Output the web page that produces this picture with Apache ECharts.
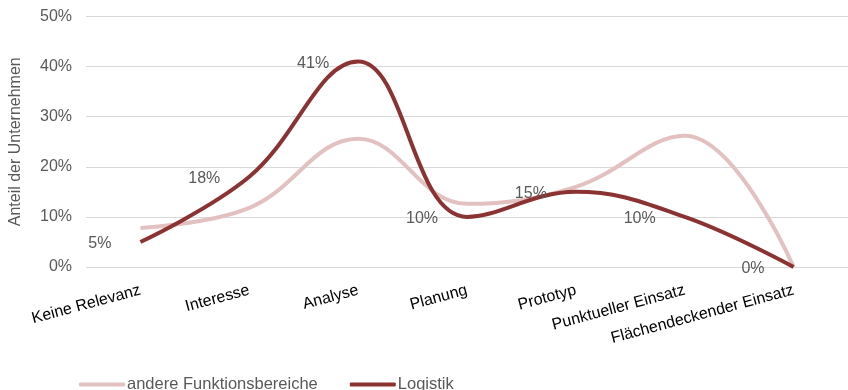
<!DOCTYPE html>
<html>
<head>
<meta charset="utf-8">
<script src="https://cdn.jsdelivr.net/npm/echarts@6/dist/echarts.min.js"></script>
<style>html,body{margin:0;padding:0;background:#fff;}#c{width:848px;height:390px;}</style>
</head>
<body>
<div id="c"></div>
<script>
const categories = ['Keine Relevanz', 'Interesse', 'Analyse', 'Planung', 'Prototyp', 'Punktueller Einsatz', 'Flächendeckender Einsatz'];
const andereFunktionsbereiche = [7.8, 11.8, 25.6, 12.6, 16, 26.2, 0];
const logistik = [5, 18, 41, 10, 15, 10, 0];
const yTicks = [0, 10, 20, 30, 40, 50];

const font = '"Liberation Sans", Arial, sans-serif';
const chart = echarts.init(document.getElementById('c'));
chart.setOption({
  animation: false,
  textStyle: { fontFamily: font },
  grid: { left: 82, right: -4, top: 16.5, bottom: 123 },
  legend: {
    left: 74, top: 371,
    itemWidth: 46, itemHeight: 4, itemGap: 32,
    icon: 'roundRect',
    textStyle: { fontFamily: font, fontSize: 16.5, color: '#595959', padding: [0, 0, 0, -3] },
    data: ['andere Funktionsbereiche', 'Logistik']
  },
  xAxis: {
    type: 'category',
    data: categories,
    boundaryGap: true,
    axisLine: { show: false },
    axisTick: { show: false },
    axisLabel: { interval: 0, rotate: 15, margin: 23, fontFamily: font, fontSize: 16, color: '#000' }
  },
  yAxis: {
    type: 'value',
    min: yTicks[0], max: yTicks[yTicks.length - 1], interval: 10,
    name: 'Anteil der Unternehmen',
    nameLocation: 'middle', nameRotate: 90, nameGap: 62,
    nameTextStyle: { fontFamily: font, fontSize: 16, color: '#595959' },
    axisLine: { show: false },
    axisTick: { show: false },
    splitLine: { lineStyle: { color: '#d9d9d9', width: 1 } },
    axisLabel: { margin: 14, fontFamily: font, fontSize: 16, color: '#595959', formatter: v => v + '%' }
  },
  series: [
    {
      name: 'andere Funktionsbereiche', type: 'line', data: andereFunktionsbereiche,
      smooth: 0.4, symbol: 'none',
      lineStyle: { color: '#e3c1c1', width: 4 }, itemStyle: { color: '#e3c1c1' }
    },
    {
      name: 'Logistik', type: 'line', data: logistik,
      smooth: 0.4, symbol: 'circle', symbolSize: 0, showSymbol: true,
      lineStyle: { color: '#8b3333', width: 4 }, itemStyle: { color: '#8b3333' },
      label: { show: true, position: 'left', distance: 29, offset: [0, 2], fontFamily: font, fontSize: 16, color: '#595959', formatter: p => p.value + '%' }
    }
  ]
});
</script>
</body>
</html>
